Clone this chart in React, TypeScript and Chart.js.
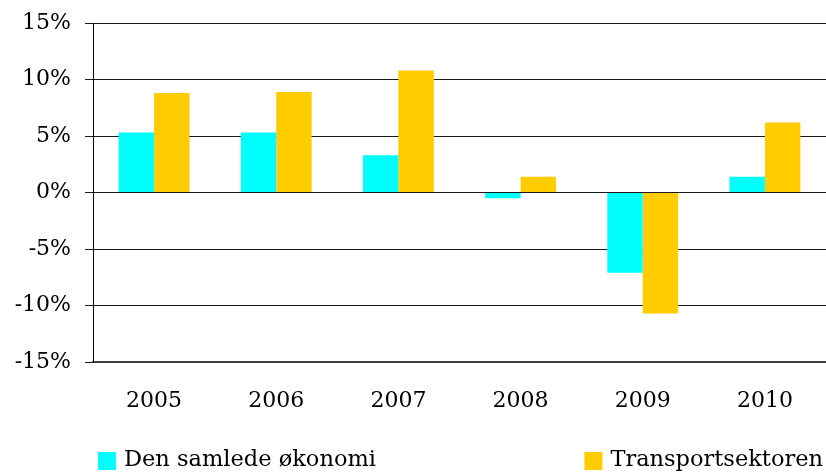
import React, { useEffect, useRef } from "react";
import { Chart, registerables } from "chart.js";

Chart.register(...registerables);

const categories = ["2005", "2006", "2007", "2008", "2009", "2010"];
const samletValues = [5.3, 5.3, 3.3, -0.5, -7.1, 1.4];
const transportValues = [8.8, 8.9, 10.8, 1.4, -10.7, 6.2];
const seriesNames = ["Den samlede økonomi", "Transportsektoren"];
const seriesColors = ["#00FFFF", "#FFCC00"];

const FONT = "'DejaVu Serif', serif";

const spreadLegend = {
  id: "spreadLegend",
  afterDraw(chart: any) {
    const { ctx, chartArea } = chart;
    const y = chart.height - 12;
    ctx.save();
    ctx.font = `22.5px ${FONT}`;
    ctx.textBaseline = "middle";
    ctx.fillStyle = "#000";
    const box = 18;
    chart.data.datasets.forEach((ds: any, i: number) => {
      const text = ds.label as string;
      const tw = ctx.measureText(text).width;
      let x: number;
      if (i === 0) {
        x = chartArea.left + 5;
      } else {
        x = chartArea.right - 3 - tw - 8 - box;
      }
      ctx.fillStyle = ds.backgroundColor;
      ctx.fillRect(x, y - box / 2 + 1, box, box);
      ctx.fillStyle = "#000";
      ctx.textAlign = "left";
      ctx.fillText(text, x + box + 8, y);
    });
    ctx.restore();
  },
};

export default function App() {
  const ref = useRef<HTMLCanvasElement | null>(null);
  useEffect(() => {
    if (!ref.current) return;
    const chart = new Chart(ref.current, {
      type: "bar",
      data: {
        labels: categories,
        datasets: [
          {
            label: seriesNames[0],
            data: samletValues,
            backgroundColor: seriesColors[0],
            categoryPercentage: 0.58,
            barPercentage: 1.0,
          },
          {
            label: seriesNames[1],
            data: transportValues,
            backgroundColor: seriesColors[1],
            categoryPercentage: 0.58,
            barPercentage: 1.0,
          },
        ],
      },
      options: {
        animation: false,
        responsive: false,
        maintainAspectRatio: false,
        layout: { autoPadding: false, padding: { top: 23, right: 0, bottom: 0, left: 0 } },
        plugins: {
          legend: { display: false },
          tooltip: { enabled: false },
        },
        scales: {
          x: {
            grid: { display: false },
            border: { display: true, color: "#404040", width: 2 },
            ticks: {
              color: "#000",
              font: { family: FONT, size: 22 },
              padding: 18,
            },
            afterFit: (scale: any) => {
              scale.height = 110;
              scale.paddingLeft = 0;
              scale.paddingRight = 0;
            },
          },
          y: {
            min: -15,
            max: 15,
            ticks: {
              stepSize: 5,
              color: "#000",
              font: { family: FONT, size: 22 },
              padding: 14,
              callback: (v: any) => `${v}%`,
            },
            grid: {
              color: "#1a1a1a",
              lineWidth: 1,
              tickLength: 8,
              drawTicks: true,
            },
            border: { display: true, color: "#000", width: 1 },
            afterFit: (scale: any) => {
              scale.width = 93;
              scale.paddingTop = 0;
              scale.paddingBottom = 0;
            },
          },
        },
      },
      plugins: [spreadLegend],
    });
    return () => chart.destroy();
  }, []);
  return (
    <div style={{ position: "absolute", left: 0, top: 0, width: 826, height: 472, background: "#fff" }}>
      <canvas ref={ref} width={826} height={472} />
    </div>
  );
}
